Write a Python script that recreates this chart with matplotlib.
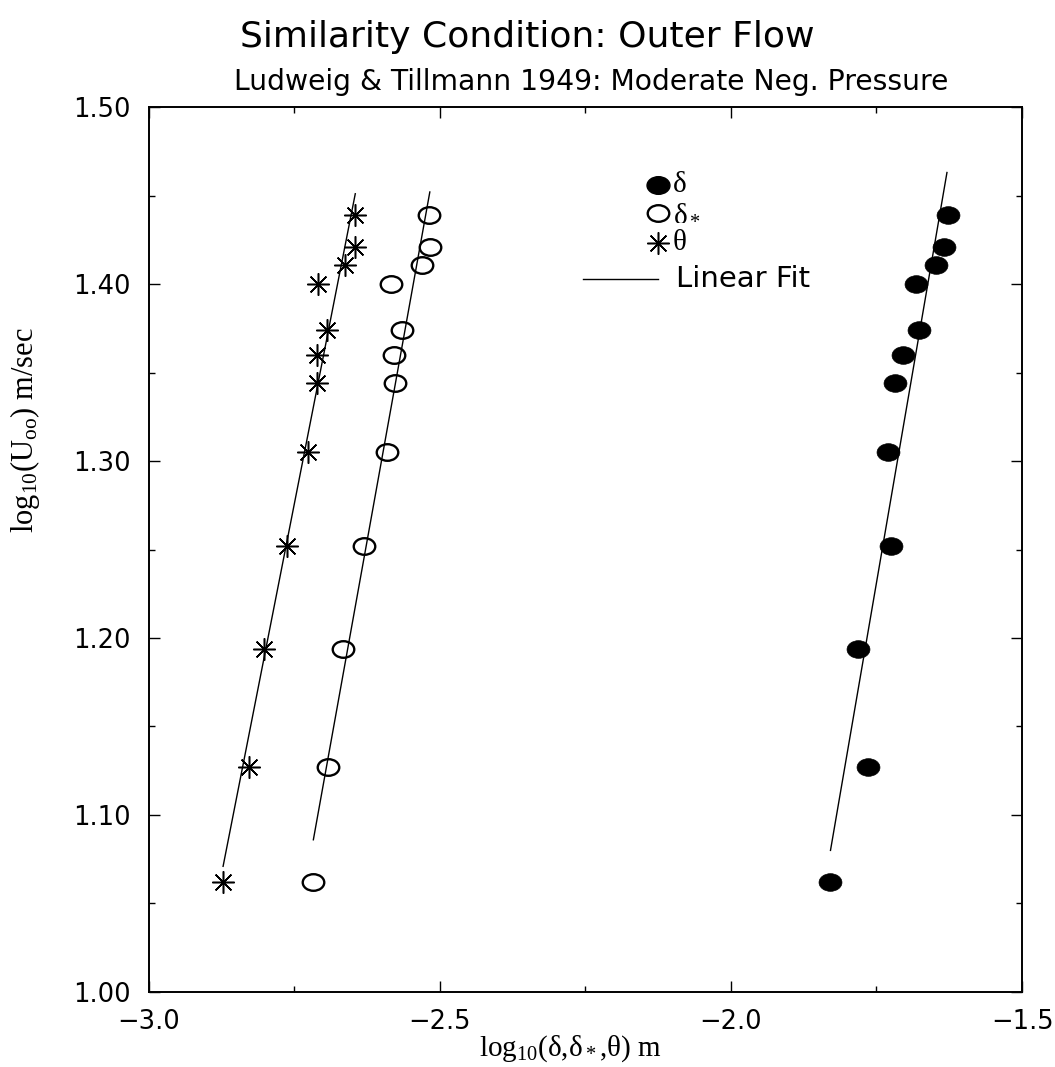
import numpy as np
import matplotlib
matplotlib.use("Agg")
import matplotlib.pyplot as plt
from matplotlib.path import Path
from matplotlib.transforms import Affine2D

plt.rcParams['font.family'] = ['DejaVu Sans']
plt.rcParams['mathtext.fontset'] = 'custom'
plt.rcParams['mathtext.rm'] = 'Liberation Serif'
plt.rcParams['mathtext.it'] = 'Liberation Serif:italic'
plt.rcParams['mathtext.default'] = 'rm'

# log10(U) values shared by all three series
log_u = [1.062, 1.127, 1.194, 1.252, 1.305, 1.344, 1.360, 1.374, 1.400, 1.411, 1.421, 1.439]
log_delta = [-1.829, -1.765, -1.781, -1.725, -1.731, -1.719, -1.705, -1.677, -1.682, -1.647, -1.634, -1.628]
log_dstar = [-2.717, -2.691, -2.666, -2.630, -2.590, -2.576, -2.578, -2.565, -2.584, -2.530, -2.517, -2.518]
log_theta = [-2.872, -2.828, -2.802, -2.763, -2.726, -2.710, -2.710, -2.694, -2.709, -2.663, -2.646, -2.646]

# linear fit end points
fit_delta_x = [-1.829, -1.629]
fit_delta_y = [1.080, 1.463]
fit_dstar_x = [-2.717, -2.517]
fit_dstar_y = [1.086, 1.452]
fit_theta_x = [-2.872, -2.645]
fit_theta_y = [1.071, 1.451]

x_ticks = [-3.0, -2.5, -2.0, -1.5]
x_ticklabels = ['\u22123.0', '\u22122.5', '\u22122.0', '\u22121.5']
y_ticks = [1.00, 1.10, 1.20, 1.30, 1.40, 1.50]
y_ticklabels = ['1.00', '1.10', '1.20', '1.30', '1.40', '1.50']

ellipse = Path.unit_circle().transformed(Affine2D().scale(1.0, 0.77))
star = (8, 2, 0)

fig = plt.figure(figsize=(10.55, 10.67), dpi=100)
ax = fig.add_axes([0.1408, 0.0703, 0.828, 0.8294])

lw_fit = 1.0
ax.plot(fit_delta_x, fit_delta_y, color='black', lw=lw_fit)
ax.plot(fit_dstar_x, fit_dstar_y, color='black', lw=lw_fit)
ax.plot(fit_theta_x, fit_theta_y, color='black', lw=lw_fit)

ax.plot(log_delta, log_u, ls='none', marker=ellipse, ms=16.5, mfc='black', mec='black', mew=0.5)
ax.plot(log_dstar, log_u, ls='none', marker=ellipse, ms=15.5, mfc='none', mec='black', mew=1.7)
ax.plot(log_theta, log_u, ls='none', marker=star, ms=16, mec='black', mew=1.1)

# legend drawn by hand
tr = ax.transAxes
ax.plot([0.5833], [0.9119], transform=tr, marker=ellipse, ms=16.5, mfc='black', mec='black', ls='none')
ax.plot([0.5833], [0.8803], transform=tr, marker=ellipse, ms=15.5, mfc='none', mec='black', mew=1.7, ls='none')
ax.plot([0.5833], [0.8463], transform=tr, marker=star, ms=16, mec='black', mew=1.1, ls='none')
ax.plot([0.4974, 0.5833], [0.8056, 0.8056], transform=tr, color='black', lw=lw_fit)
ax.text(0.600, 0.9119, 'δ', transform=tr, fontsize=21, family='Liberation Serif', va='center')
ax.text(0.600, 0.8803, 'δ$_*$', transform=tr, fontsize=21, family='Liberation Serif', va='center')
ax.text(0.600, 0.8463, 'θ', transform=tr, fontsize=21, family='Liberation Serif', va='center')
ax.text(0.604, 0.8056, 'Linear Fit', transform=tr, fontsize=21, va='center')

ax.set_xlim(-3.0, -1.5)
ax.set_ylim(1.0, 1.5)
ax.set_xticks(x_ticks)
ax.set_xticks(np.arange(-3.0, -1.49, 0.25), minor=True)
ax.set_xticklabels(x_ticklabels)
ax.set_yticks(y_ticks)
ax.set_yticks(np.arange(1.0, 1.501, 0.05), minor=True)
ax.set_yticklabels(y_ticklabels)
ax.tick_params(which='both', direction='in', top=True, right=True, labelsize=18.5, width=1.0)
ax.tick_params(axis='y', which='major', length=8, pad=13)
ax.tick_params(axis='x', which='major', length=8, pad=12)
ax.tick_params(which='minor', length=4.5)
for s in ax.spines.values():
    s.set_linewidth(1.4)

ax.set_xlabel('log$_{10}$(δ,δ$_*$,θ) m', family='Liberation Serif', fontsize=21)
ax.xaxis.set_label_coords(0.4826, -0.047)
ax.set_ylabel('log$_{10}$(U$_{oo}$) m/sec', family='Liberation Serif', fontsize=22)
ax.yaxis.set_label_coords(-0.122, 0.635)

fig.text(0.5, 0.965, 'Similarity Condition: Outer Flow', ha='center', va='center', fontsize=26)
fig.text(0.56, 0.923, 'Ludweig & Tillmann 1949: Moderate Neg. Pressure', ha='center', va='center', fontsize=20.3)

fig.savefig('out.png', dpi=100)
